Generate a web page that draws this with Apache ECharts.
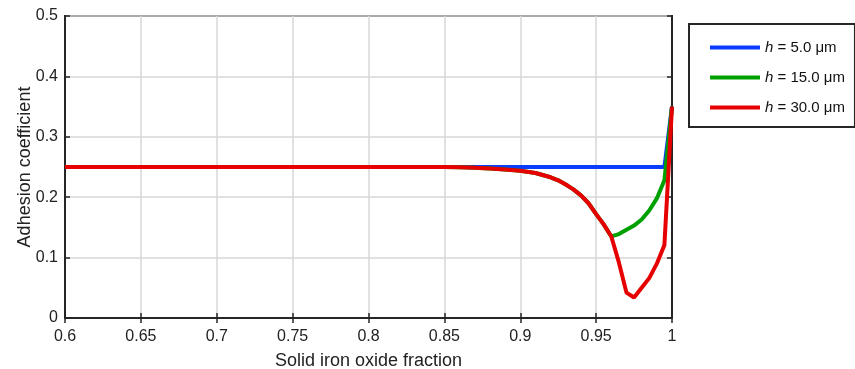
<!DOCTYPE html>
<html>
<head>
<meta charset="utf-8">
<script src="https://cdn.jsdelivr.net/npm/echarts@6/dist/echarts.min.js"></script>
<style>
html,body{margin:0;padding:0;background:#fff;}
#chart{width:855px;height:369px;}
</style>
</head>
<body>
<div id="chart"></div>
<script>
// data
var xBlue = [0.6, 0.7, 0.8, 0.9, 0.95, 0.995, 1.0];
var yBlue = [0.25, 0.25, 0.25, 0.25, 0.25, 0.25, 0.35];

var xGreen = [0.6, 0.85, 0.86, 0.87, 0.88, 0.89, 0.9, 0.91, 0.92, 0.925, 0.93, 0.935, 0.94, 0.945, 0.95, 0.955, 0.96, 0.965, 0.97, 0.975, 0.98, 0.985, 0.99, 0.995, 1.0];
var yGreen = [0.25, 0.25, 0.2495, 0.2486, 0.2474, 0.2458, 0.2438, 0.24, 0.233, 0.228, 0.221, 0.213, 0.203, 0.19, 0.172, 0.155, 0.135, 0.139, 0.146, 0.153, 0.163, 0.178, 0.198, 0.228, 0.35];

var xRed = [0.6, 0.85, 0.86, 0.87, 0.88, 0.89, 0.9, 0.91, 0.92, 0.925, 0.93, 0.935, 0.94, 0.945, 0.95, 0.955, 0.96, 0.965, 0.97, 0.975, 0.98, 0.985, 0.99, 0.995, 1.0];
var yRed = [0.25, 0.25, 0.2495, 0.2486, 0.2474, 0.2458, 0.2438, 0.24, 0.233, 0.228, 0.221, 0.213, 0.203, 0.19, 0.172, 0.155, 0.135, 0.092, 0.042, 0.034, 0.05, 0.066, 0.09, 0.121, 0.35];

var seriesNames = ['5.0', '15.0', '30.0'];
var colors = ['#0a3cff', '#00a000', '#e60000'];

function pairs(xs, ys)
{
	var out = [];
	for (var i = 0; i < xs.length; i++)
	{
		out.push([xs[i], ys[i]]);
	}
	return out;
}

var chart = echarts.init(document.getElementById('chart'));
var axisColor = '#262626';
var gridColor = '#d7d7d7';
var font = 'Liberation Sans, Arial, sans-serif';

var option = {
	animation: false,
	backgroundColor: '#fff',
	color: colors,
	grid: {left: 65, right: 183, top: 16, bottom: 51, outerBoundsMode: 'none', show: true, borderColor: axisColor, borderWidth: 2, backgroundColor: 'transparent'},
	legend: {
		orient: 'vertical',
		left: 689, top: 24,
		padding: [16, 10, 12, 21],
		itemGap: 15,
		itemWidth: 50, itemHeight: 4,
		icon: 'rect',
		borderColor: axisColor,
		borderWidth: 2,
		backgroundColor: '#fff',
		data: seriesNames,
		formatter: function(name){ return '{i|h} = ' + name + ' \u03bcm'; },
		textStyle: {
			fontFamily: font, fontSize: 15, color: '#111',
			rich: {i: {fontStyle: 'italic', fontFamily: font, fontSize: 15, color: '#111'}}
		}
	},
	xAxis: [{
		type: 'value', min: 0.6, max: 1, interval: 0.05,
		name: 'Solid iron oxide fraction', nameLocation: 'middle', nameGap: 34, nameMoveOverlap: false,
		nameTextStyle: {fontFamily: font, fontSize: 18, color: '#222'},
		axisLine: {show: true, onZero: false, lineStyle: {color: axisColor, width: 2}},
		axisTick: {show: true, inside: true, length: 5, lineStyle: {color: axisColor, width: 1.5}},
		axisLabel: {fontFamily: font, fontSize: 16, color: '#222', margin: 11, formatter: function(v){ return String(+v.toFixed(2)); }},
		splitLine: {show: true, lineStyle: {color: gridColor, width: 1.5}}
	}, {
		type: 'value', position: 'top', min: 0.6, max: 1, interval: 0.05,
		axisLine: {show: true, lineStyle: {color: axisColor, width: 2}},
		axisTick: {show: true, inside: true, length: 5, lineStyle: {color: axisColor, width: 1.5}},
		axisLabel: {show: false}, splitLine: {show: false}
	}],
	yAxis: [{
		type: 'value', min: 0, max: 0.5, interval: 0.1,
		name: 'Adhesion coefficient', nameLocation: 'middle', nameGap: 31, nameMoveOverlap: false,
		nameTextStyle: {fontFamily: font, fontSize: 18, color: '#222'},
		axisLine: {show: true, onZero: false, lineStyle: {color: axisColor, width: 2}},
		axisTick: {show: true, inside: true, length: 5, lineStyle: {color: axisColor, width: 1.5}},
		axisLabel: {fontFamily: font, fontSize: 16, color: '#222', margin: 7},
		splitLine: {show: true, lineStyle: {color: gridColor, width: 1.5}}
	}, {
		type: 'value', position: 'right', min: 0, max: 0.5, interval: 0.1,
		axisLine: {show: true, lineStyle: {color: axisColor, width: 2}},
		axisTick: {show: true, inside: true, length: 5, lineStyle: {color: axisColor, width: 1.5}},
		axisLabel: {show: false}, splitLine: {show: false}
	}],
	series: [
		{name: seriesNames[0], type: 'line', data: pairs(xBlue, yBlue), showSymbol: false, lineStyle: {width: 4}, z: 2},
		{name: seriesNames[1], type: 'line', data: pairs(xGreen, yGreen), showSymbol: false, lineStyle: {width: 4}, z: 3},
		{name: seriesNames[2], type: 'line', data: pairs(xRed, yRed), showSymbol: false, lineStyle: {width: 4}, z: 4}
	]
};
chart.setOption(option);
</script>
</body>
</html>
